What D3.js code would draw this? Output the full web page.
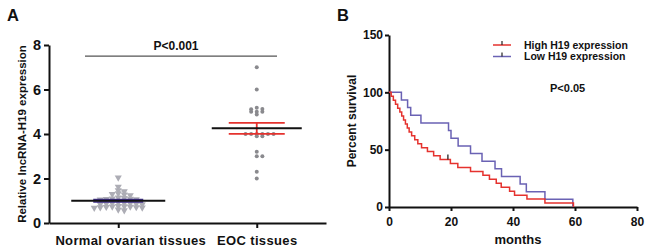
<!DOCTYPE html>
<html><head><meta charset="utf-8">
<script src="https://cdn.jsdelivr.net/npm/d3@7"></script>
<style>
body{margin:0;background:#fff}
svg{display:block}
text{font-family:"Liberation Sans",Arial,Helvetica,sans-serif;font-weight:bold;fill:#111}
</style>
</head><body>
<svg id="c" width="647" height="251"></svg>
<script>
// ---------- Panel A data ----------
const categories = ["Normal ovarian tissues", "EOC tissues"];
const normalValues = [2.04, 1.63, 1.47, 1.42, 1.33, 1.30, 1.28, 1.25, 1.14, 1.12, 1.10, 1.09, 1.08, 1.06, 1.05,
  0.92, 0.90, 0.89, 0.88, 0.87, 0.86, 0.85, 0.84, 0.76, 0.75, 0.74, 0.73, 0.72, 0.71, 0.70, 0.69, 0.68, 0.60, 0.57];
const eocValues = [7.0, 6.0, 5.18, 5.12, 5.11, 5.0, 5.0, 5.0, 4.88, 4.0, 4.0, 4.0, 4.0, 4.0, 4.0, 3.9, 3.9,
  3.2, 3.0, 3.0, 2.3, 2.0];
const yTicksA = [0, 2, 4, 6, 8];
const pLabelA = "P<0.001";
const pBarValueA = 7.5;
const yTitleA = "Relative lncRNA-H19 expression";

// ---------- Panel B data ----------
const lowTimes = [0, 4, 6, 7, 10.3, 19.2, 20, 22.3, 26.3, 30, 34.2, 36.3, 42.3, 44.3, 50.3, 59.3];
const lowSurv  = [100, 93.3, 86.7, 80, 73.3, 66.7, 60, 53.3, 46.7, 40, 33.3, 26.7, 20, 13.3, 6.7, 0];
const highTimes = [0, 0.7, 1.4, 2.1, 2.8, 3.5, 4.1, 4.7, 5.3, 5.9, 6.5, 7.3, 8.3, 9.3, 10.5, 12.4, 14.4, 16.5,
  19.8, 22.2, 26.3, 30.3, 32.4, 34.6, 36.2, 38.9, 40.5, 44.5, 50.3, 59.5];
const highSurv  = [100, 96.6, 93.1, 89.7, 86.2, 82.8, 79.3, 75.9, 72.4, 69, 65.5, 62.1, 58.6, 55.2, 51.7, 48.3, 44.8, 41.4,
  37.9, 34.5, 31.0, 27.6, 24.1, 20.7, 17.2, 13.8, 10.3, 6.9, 3.4, 0];
const highCensorTimes = [19];
const highCensorSurv = [41.4];
const yTicksB = [0, 50, 100, 150];
const xTicksB = [0, 20, 40, 60, 80];
const legendLabels = ["High H19 expression", "Low H19 expression"];
const pLabelB = "P<0.05";
const xTitleB = "months";
const yTitleB = "Percent survival";

const RED = "#e5322e", BLUE = "#6a62b4", PURPLE = "#3f2e8c";
const svg = d3.select("#c");

function styleAxis(g, w) {
  g.select(".domain").attr("stroke", "#111").attr("stroke-width", w);
  g.selectAll(".tick line").attr("stroke", "#111").attr("stroke-width", w);
  g.selectAll(".tick text").attr("fill", "#111");
}

// simple beeswarm: rows of points spread symmetrically
function swarm(vals, yScale, step, rowH) {
  const idx = vals.map((v, i) => i).sort((a, b) => vals[b] - vals[a]);
  const placed = [];
  const out = new Array(vals.length);
  idx.forEach(i => {
    const yy = yScale(vals[i]);
    for (let k = 0; k < 60; k++) {
      const m = k === 0 ? 0 : (k % 2 ? (k + 1) / 2 : -k / 2);
      const dx = m * step;
      const hit = placed.some(p => Math.abs(p.y - yy) < rowH && Math.abs(p.x - dx) < step * 0.9);
      if (!hit) { placed.push({x: dx, y: yy}); out[i] = {dx, y: yy}; break; }
    }
  });
  return out;
}

// ================= Panel A =================
const yA = d3.scaleLinear().domain([0, 8]).range([223, 45]);
const xA = d3.scalePoint().domain(categories).range([49, 326]).padding(0.5);

svg.append("text").attr("x", 7).attr("y", 21).attr("font-size", 16.5).text("A");

const gyA = svg.append("g").attr("transform", "translate(49,0)")
  .call(d3.axisLeft(yA).tickValues(yTicksA).tickSize(5).tickSizeOuter(0).tickPadding(3));
styleAxis(gyA, 2);
gyA.selectAll(".tick text").attr("font-size", 14.5).attr("font-family", "Liberation Sans, Arial, sans-serif").attr("font-weight", "bold");

const gxA = svg.append("g").attr("transform", "translate(0,223)")
  .call(d3.axisBottom(xA).tickSize(5).tickSizeOuter(0).tickPadding(8));
styleAxis(gxA, 2);
gxA.selectAll(".tick text").attr("font-size", 13).attr("letter-spacing", 0.35)
  .attr("font-family", "Liberation Sans, Arial, sans-serif").attr("font-weight", "bold")
  .attr("dx", (d, i) => i === 0 ? 12 : 0);

svg.append("text").attr("transform", "translate(26,134) rotate(-90)")
  .attr("text-anchor", "middle").attr("font-size", 11.5).text(yTitleA);

// significance bar
svg.append("line").attr("x1", 85).attr("x2", 277).attr("y1", yA(pBarValueA)).attr("y2", yA(pBarValueA))
  .attr("stroke", "#555").attr("stroke-width", 1.3);
svg.append("text").attr("x", 176).attr("y", 50).attr("text-anchor", "middle").attr("font-size", 12).text(pLabelA);

// normal points (inverted triangles)
const cN = xA(categories[0]);
const swN = swarm(normalValues, yA, 6, 3);
const tri = d3.symbol().type(d3.symbolTriangle).size(22);
svg.append("g").selectAll("path").data(swN).join("path")
  .attr("d", tri).attr("fill", "#adadb5")
  .attr("transform", d => `translate(${cN + d.dx},${d.y}) rotate(180)`);

// EOC points
const cE = xA(categories[1]);
const swE = swarm(eocValues, yA, 5.6, 2);
svg.append("g").selectAll("circle").data(swE).join("circle")
  .attr("cx", d => cE + d.dx).attr("cy", d => d.y).attr("r", 2).attr("fill", "#8a8a8e");

function stats(v) {
  const m = d3.mean(v), s = d3.deviation(v) / Math.sqrt(v.length);
  return {m, s};
}
const sN = stats(normalValues), sE = stats(eocValues);

// normal SEM (purple band) and mean
[sN.m - sN.s, sN.m + sN.s].forEach(v => {
  svg.append("line").attr("x1", cN - 25).attr("x2", cN + 25).attr("y1", yA(v)).attr("y2", yA(v))
    .attr("stroke", PURPLE).attr("stroke-width", 1.5);
});
svg.append("line").attr("x1", cN).attr("x2", cN).attr("y1", yA(sN.m - sN.s)).attr("y2", yA(sN.m + sN.s))
  .attr("stroke", PURPLE).attr("stroke-width", 1.5);
svg.append("line").attr("x1", cN - 47).attr("x2", cN + 47).attr("y1", yA(sN.m)).attr("y2", yA(sN.m))
  .attr("stroke", "#111").attr("stroke-width", 2);

// EOC SEM (red) and mean
[sE.m - sE.s, sE.m + sE.s].forEach(v => {
  svg.append("line").attr("x1", cE - 28).attr("x2", cE + 28).attr("y1", yA(v)).attr("y2", yA(v))
    .attr("stroke", RED).attr("stroke-width", 1.8);
});
svg.append("line").attr("x1", cE).attr("x2", cE).attr("y1", yA(sE.m - sE.s)).attr("y2", yA(sE.m + sE.s))
  .attr("stroke", RED).attr("stroke-width", 1.8);
svg.append("line").attr("x1", cE - 45).attr("x2", cE + 45).attr("y1", yA(sE.m)).attr("y2", yA(sE.m))
  .attr("stroke", "#111").attr("stroke-width", 2);

// ================= Panel B =================
const xB = d3.scaleLinear().domain([0, 80]).range([389, 637]);
const yB = d3.scaleLinear().domain([0, 150]).range([207, 35]);

svg.append("text").attr("x", 337).attr("y", 21).attr("font-size", 16.5).text("B");

const gyB = svg.append("g").attr("transform", "translate(389,0)")
  .call(d3.axisLeft(yB).tickValues(yTicksB).tickSize(4).tickSizeOuter(0).tickPadding(2));
styleAxis(gyB, 2);
gyB.selectAll(".tick text").attr("font-size", 12).attr("font-family", "Liberation Sans, Arial, sans-serif").attr("font-weight", "bold");

const gxB = svg.append("g").attr("transform", "translate(0,207)")
  .call(d3.axisBottom(xB).tickValues(xTicksB).tickSize(4).tickSizeOuter(0).tickPadding(6));
styleAxis(gxB, 2);
gxB.selectAll(".tick text").attr("font-size", 12).attr("font-family", "Liberation Sans, Arial, sans-serif").attr("font-weight", "bold");

svg.append("text").attr("x", 518).attr("y", 244).attr("text-anchor", "middle").attr("font-size", 13).text(xTitleB);
svg.append("text").attr("transform", "translate(356,121) rotate(-90)")
  .attr("text-anchor", "middle").attr("font-size", 12).text(yTitleB);

const line = d3.line().x(d => xB(d[0])).y(d => yB(d[1])).curve(d3.curveStepAfter);
svg.append("path").datum(lowTimes.map((t, i) => [t, lowSurv[i]]))
  .attr("d", line).attr("fill", "none").attr("stroke", BLUE).attr("stroke-width", 1.5);
svg.append("path").datum(highTimes.map((t, i) => [t, highSurv[i]]))
  .attr("d", line).attr("fill", "none").attr("stroke", RED).attr("stroke-width", 1.5);
highCensorTimes.forEach((t, i) => {
  svg.append("line").attr("x1", xB(t)).attr("x2", xB(t)).attr("y1", yB(highCensorSurv[i])).attr("y2", yB(highCensorSurv[i]) - 5)
    .attr("stroke", "#222").attr("stroke-width", 1.3);
});

// legend
const legY = [45, 56.5];
const legC = [RED, BLUE];
legendLabels.forEach((lab, i) => {
  svg.append("line").attr("x1", 493).attr("x2", 511).attr("y1", legY[i]).attr("y2", legY[i])
    .attr("stroke", legC[i]).attr("stroke-width", 1.5);
  svg.append("line").attr("x1", 502).attr("x2", 502).attr("y1", legY[i]).attr("y2", legY[i] - 4)
    .attr("stroke", "#222").attr("stroke-width", 1.2);
  svg.append("text").attr("x", 524).attr("y", legY[i] + 3.8).attr("font-size", 10.5).text(lab);
});
svg.append("text").attr("x", 550).attr("y", 92).attr("font-size", 11).text(pLabelB);
</script>
</body></html>
